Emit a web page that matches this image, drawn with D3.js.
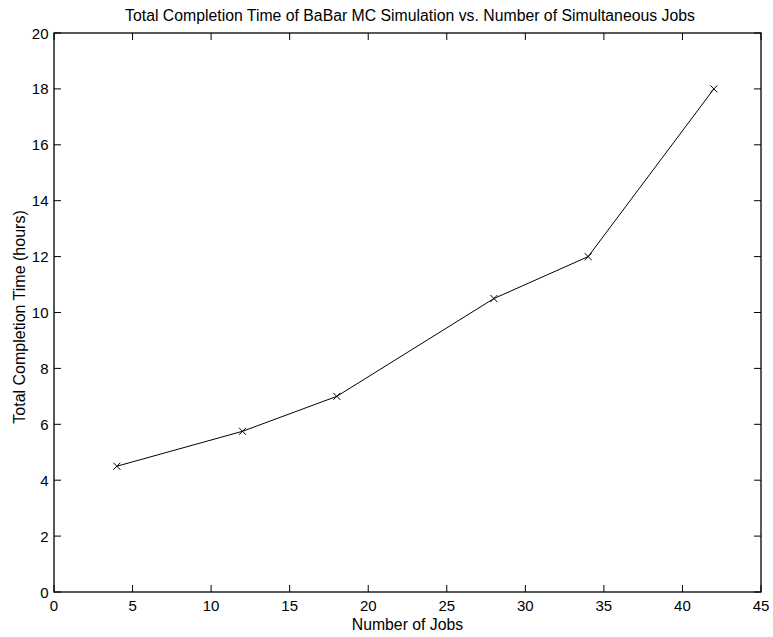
<!DOCTYPE html>
<html><head><meta charset="utf-8">
<script src="https://cdn.jsdelivr.net/npm/d3@7"></script>
<style>body{margin:0;background:#fff}svg{display:block}text{font-family:"Liberation Sans",Arial,sans-serif;fill:#000}</style>
</head><body>
<svg id="c" width="773" height="637"></svg>
<script>
const jobs = [4, 12, 18, 28, 34, 42];
const hours = [4.5, 5.75, 7, 10.5, 12, 18];
const xTicks = [0, 5, 10, 15, 20, 25, 30, 35, 40, 45];
const yTicks = [0, 2, 4, 6, 8, 10, 12, 14, 16, 18, 20];
const title = "Total Completion Time of BaBar MC Simulation vs. Number of Simultaneous Jobs";
const xLabel = "Number of Jobs";
const yLabel = "Total Completion Time (hours)";

const svg = d3.select("#c");
const L = 54, R = 761, T = 33, B = 592;
const x = d3.scaleLinear().domain([0, 45]).range([L, R]);
const y = d3.scaleLinear().domain([0, 20]).range([B, T]);
const tl = 7;

const g = svg.append("g");
g.append("rect").attr("x", L).attr("y", T).attr("width", R - L).attr("height", B - T)
  .attr("fill", "none").attr("stroke", "#000").attr("stroke-width", 1.3);

const fs = 15;
xTicks.forEach(v => {
  const px = x(v);
  g.append("line").attr("x1", px).attr("x2", px).attr("y1", B).attr("y2", B - tl).attr("stroke", "#000");
  g.append("line").attr("x1", px).attr("x2", px).attr("y1", T).attr("y2", T + tl).attr("stroke", "#000");
  g.append("text").attr("x", px).attr("y", B + 19).attr("text-anchor", "middle").attr("font-size", fs).text(v);
});
yTicks.forEach(v => {
  const py = y(v);
  g.append("line").attr("x1", L).attr("x2", L + tl).attr("y1", py).attr("y2", py).attr("stroke", "#000");
  g.append("line").attr("x1", R).attr("x2", R - tl).attr("y1", py).attr("y2", py).attr("stroke", "#000");
  g.append("text").attr("x", L - 5.5).attr("y", py + 5.5).attr("text-anchor", "end").attr("font-size", fs).text(v);
});

const line = d3.line().x((d, i) => x(jobs[i])).y(d => y(d));
g.append("path").datum(hours).attr("d", line).attr("fill", "none").attr("stroke", "#000").attr("stroke-width", 1);

const m = 3.5;
hours.forEach((h, i) => {
  const px = x(jobs[i]), py = y(h);
  g.append("path").attr("d", `M${px - m},${py - m}L${px + m},${py + m}M${px - m},${py + m}L${px + m},${py - m}`)
    .attr("stroke", "#000").attr("stroke-width", 1);
});

svg.append("text").attr("x", 410).attr("y", 21).attr("text-anchor", "middle").attr("font-size", 15.8).text(title);
svg.append("text").attr("x", (L + R) / 2).attr("y", 630).attr("text-anchor", "middle").attr("font-size", 15.8).text(xLabel);
svg.append("text").attr("transform", `translate(25,317) rotate(-90)`).attr("text-anchor", "middle").attr("font-size", 16).text(yLabel);
</script>
</body></html>
